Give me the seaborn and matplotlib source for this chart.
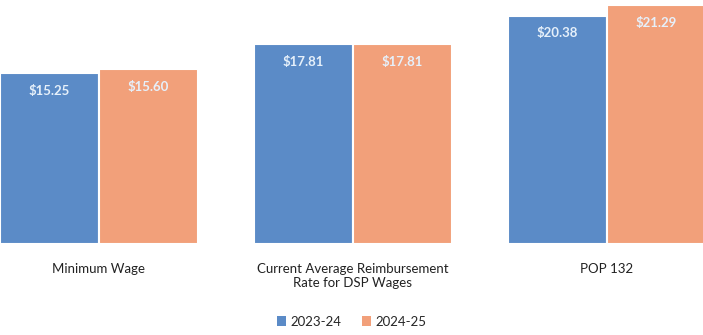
import matplotlib
matplotlib.use("Agg")
import matplotlib.pyplot as plt
import seaborn as sns
import pandas as pd
from matplotlib.patches import Patch

categories = ["Minimum Wage", "Current Average Reimbursement\nRate for DSP Wages", "POP 132"]
series_names = ["2023-24", "2024-25"]
values_2023 = [15.25, 17.81, 20.38]
values_2024 = [15.60, 17.81, 21.29]

colors = ["#5B8BC7", "#F2A07A"]

df = pd.DataFrame({
    "category": categories * 2,
    "year": [series_names[0]] * 3 + [series_names[1]] * 3,
    "value": values_2023 + values_2024,
})

sns.set_style("white")
plt.rcParams["font.family"] = ["Lato", "DejaVu Sans"]

fig = plt.figure(figsize=(7.03, 3.35), dpi=100)
ax = fig.add_axes([0.0, 0.2716, 1.0, 0.7224])

sns.barplot(data=df, x="category", y="value", hue="year", palette=colors,
            saturation=1, width=0.78, ax=ax, edgecolor="white", linewidth=1.5,
            legend=False)

for cont in ax.containers:
    ax.bar_label(cont, labels=[f"${v:.2f}" for v in cont.datavalues],
                 padding=-17, color="#E6F0FA", fontsize=9.5, fontweight="bold")

ax.set_xlim(-0.39, 2.38)
ax.set_ylim(0, 21.6)
ax.set_xlabel("")
ax.set_ylabel("")
ax.set_yticks([])
ax.tick_params(axis="x", length=0, labelsize=9.5, pad=14, colors="#222222")
for s in ax.spines.values():
    s.set_visible(False)

handles = [Patch(facecolor=c, edgecolor="none") for c in colors]
fig.legend(handles, series_names, loc="center", bbox_to_anchor=(0.5, 0.04),
           ncol=2, frameon=False, fontsize=9.5, handlelength=0.7, handleheight=0.7,
           handletextpad=0.3, columnspacing=1.6)

fig.savefig("out.png", dpi=100)
